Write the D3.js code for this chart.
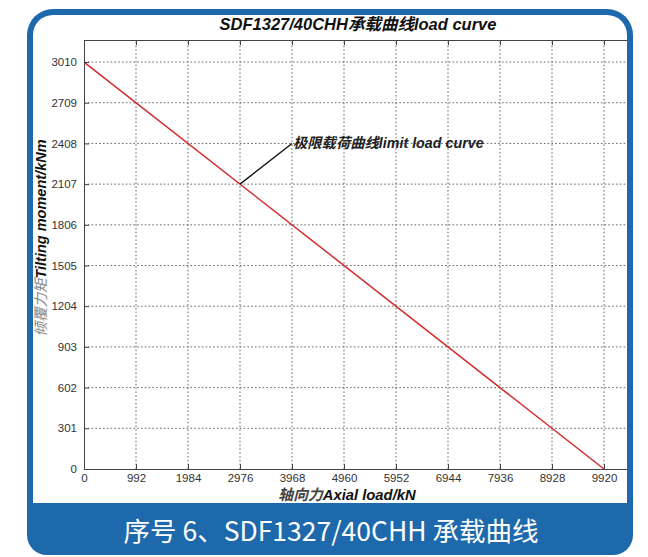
<!DOCTYPE html>
<html>
<head>
<meta charset="utf-8">
<script src="https://cdn.jsdelivr.net/npm/d3@7"></script>
<style>
  html, body { margin: 0; padding: 0; background: #ffffff; }
  svg { display: block; }
</style>
</head>
<body>
<svg id="chart" width="648" height="557"></svg>
<script>
// ---- data ----
const xTicks = [0, 992, 1984, 2976, 3968, 4960, 5952, 6944, 7936, 8928, 9920];
const yTicks = [0, 301, 602, 903, 1204, 1505, 1806, 2107, 2408, 2709, 3010];
const curveX = [0, 9920];
const curveY = [3010, 0];
const annoFrom = [2976, 2107];
const annoTo = [3968, 2408];
const titleText = "SDF1327/40CHH承载曲线load curve";
const annoText = "极限载荷曲线limit load curve";
const xLabelCn = "轴向力", xLabelEn = "Axial load/kN";
const yLabelCn = "倾覆力矩", yLabelEn = "Tilting moment/kNm";
const captionText = "序号 6、SDF1327/40CHH 承载曲线";

// ---- layout ----
const blue = "#1d69ab";
const latin = "'Liberation Sans', Arial, Helvetica, sans-serif";
const cjk = "'Liberation Sans', 'Noto Sans CJK SC', sans-serif";

const svg = d3.select("#chart");

// frame
const outer = {x0: 27, y0: 9, x1: 633, y1: 555, r: 26};
svg.append("path")
  .attr("d", (() => {
    const p = d3.path();
    const {x0, y0, x1, y1, r} = outer;
    p.moveTo(x0 + r, y0);
    p.lineTo(x1 - r, y0);
    p.arcTo(x1, y0, x1, y0 + r, r);
    p.lineTo(x1, y1 - 20);
    p.arcTo(x1, y1, x1 - 20, y1, 20);
    p.lineTo(x0 + 20, y1);
    p.arcTo(x0, y1, x0, y1 - 20, 20);
    p.lineTo(x0, y0 + r);
    p.arcTo(x0, y0, x0 + r, y0, r);
    p.closePath();
    return p.toString();
  })())
  .attr("fill", blue);

const inner = {x0: 33, y0: 15, x1: 627, y1: 503, r: 20};
const innerPath = (() => {
  const p = d3.path();
  const {x0, y0, x1, y1, r} = inner;
  p.moveTo(x0 + r, y0);
  p.lineTo(x1 - r, y0);
  p.arcTo(x1, y0, x1, y0 + r, r);
  p.lineTo(x1, y1);
  p.lineTo(x0, y1);
  p.lineTo(x0, y0 + r);
  p.arcTo(x0, y0, x0 + r, y0, r);
  p.closePath();
  return p.toString();
})();
svg.append("path").attr("d", innerPath).attr("fill", "#ffffff");
svg.append("clipPath").attr("id", "innerClip").append("path").attr("d", innerPath);

const g = svg.append("g").attr("clip-path", "url(#innerClip)");

// scales
const x = d3.scaleLinear().domain([0, 10416]).range([84, 630]);
const y = d3.scaleLinear().domain([0, 3173]).range([469, 40]);

// grid
const gridStyle = sel => sel.attr("stroke", "#555").attr("stroke-width", 0.9).attr("stroke-dasharray", "1.6,2.2");
g.append("g").selectAll("line").data(xTicks.filter(d => d > 0)).join("line")
  .attr("x1", d => x(d)).attr("x2", d => x(d)).attr("y1", y.range()[0]).attr("y2", y.range()[1])
  .call(gridStyle);
g.append("g").selectAll("line").data(yTicks.filter(d => d > 0)).join("line")
  .attr("y1", d => y(d)).attr("y2", d => y(d)).attr("x1", x.range()[0]).attr("x2", x.range()[1])
  .call(gridStyle);

// axes — ticks inward
const xAxis = d3.axisBottom(x).tickValues(xTicks).tickSize(-5).tickPadding(5).tickFormat(d3.format("d"));
const yAxis = d3.axisLeft(y).tickValues(yTicks).tickSize(-5).tickPadding(7).tickFormat(d3.format("d"));
const xAxisTop = d3.axisTop(x).tickValues(xTicks).tickSize(-5).tickFormat("");
const styleAxis = sel => {
  sel.select(".domain").attr("stroke", "#444").attr("stroke-width", 1);
  sel.selectAll(".tick line").attr("stroke", "#444").attr("stroke-width", 1);
  sel.selectAll(".tick text").attr("fill", "#333").attr("font-family", latin).attr("font-size", 11.5);
};
g.append("g").attr("transform", `translate(0,${y(0)})`).call(xAxis).call(styleAxis);
g.append("g").attr("transform", `translate(0,${y.range()[1]})`).call(xAxisTop).call(styleAxis);
svg.append("g").attr("transform", `translate(${x(0)},0)`).call(yAxis).call(styleAxis);

// curve
g.append("path")
  .datum(curveX.map((d, i) => [d, curveY[i]]))
  .attr("d", d3.line().x(d => x(d[0])).y(d => y(d[1])))
  .attr("fill", "none").attr("stroke", "#d42a2a").attr("stroke-width", 1.5);

// annotation
g.append("line")
  .attr("x1", x(annoFrom[0])).attr("y1", y(annoFrom[1]))
  .attr("x2", x(annoTo[0])).attr("y2", y(annoTo[1]))
  .attr("stroke", "#111").attr("stroke-width", 1.3);
g.append("text")
  .attr("x", x(annoTo[0]) + 1).attr("y", y(annoTo[1]) + 5)
  .attr("font-family", cjk).attr("font-size", 14.3).attr("font-weight", "bold").attr("font-style", "italic")
  .attr("fill", "#222")
  .text(annoText);

// title
svg.append("text")
  .attr("x", 358).attr("y", 30).attr("text-anchor", "middle")
  .attr("font-family", cjk).attr("font-size", 16.5).attr("font-weight", "bold").attr("font-style", "italic")
  .attr("fill", "#111").text(titleText);

// x label
const xl = svg.append("text")
  .attr("x", 347).attr("y", 500).attr("text-anchor", "middle")
  .attr("font-family", cjk).attr("font-size", 14.8).attr("font-weight", "bold").attr("font-style", "italic")
  .attr("fill", "#111");
xl.append("tspan").attr("fill", "#444").text(xLabelCn);
xl.append("tspan").text(xLabelEn);

// y label
const yl = svg.append("text")
  .attr("transform", "translate(46,238) rotate(-90)").attr("text-anchor", "middle")
  .attr("font-family", cjk).attr("font-size", 14.5).attr("font-weight", "bold").attr("font-style", "italic")
  .attr("fill", "#111");
yl.append("tspan").attr("fill", "#888").attr("font-weight", "normal").text(yLabelCn);
yl.append("tspan").text(yLabelEn);

// caption
svg.append("text")
  .attr("x", 331).attr("y", 541).attr("text-anchor", "middle")
  .attr("font-family", "'Noto Sans CJK SC', 'Noto Sans', sans-serif").attr("font-size", 26.5)
  .attr("fill", "#ffffff").text(captionText);
</script>
</body>
</html>
